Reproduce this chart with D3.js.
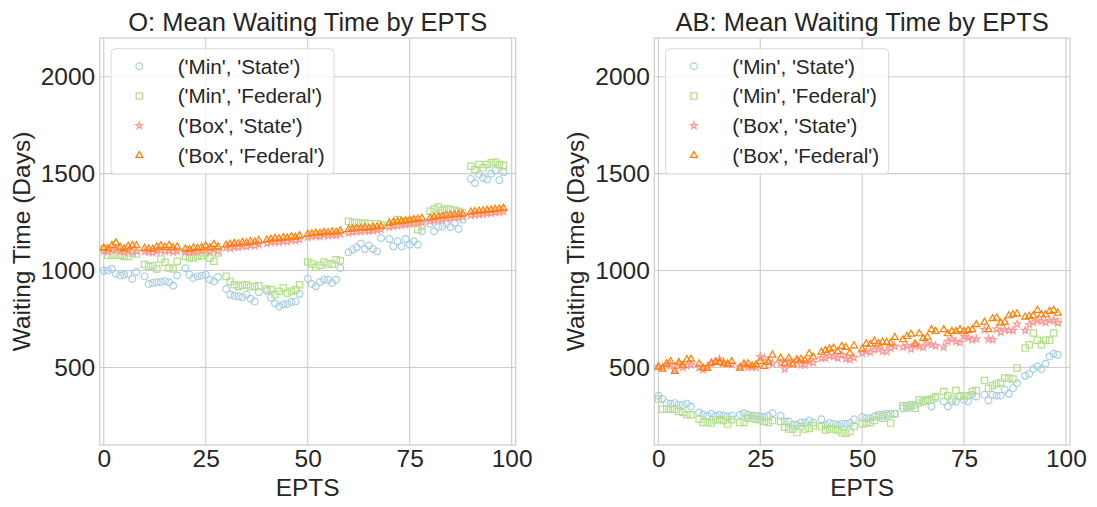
<!DOCTYPE html>
<html><head><meta charset="utf-8">
<script src="https://cdn.jsdelivr.net/npm/d3@7"></script>
<style>
body{margin:0;background:#fff}
text{font-family:"Liberation Sans",Arial,sans-serif;fill:#262626}
</style>
</head><body>
<svg id="c" width="1097" height="507"></svg>
<script>
// ---------------- DATA ----------------
const epts = [
 0,1,2,3,4,5,6,7,8,
 10,11,12,13,14,15,16,17,18,
 20,21,22,23,24,25,26,27,28,
 30,31,32,33,34,35,36,37,38,
 40,41,42,43,44,45,46,47,48,
 50,51,52,53,54,55,56,57,58,
 60,61,62,63,64,65,66,67,68,
 70,71,72,73,74,75,76,77,78,
 80,81,82,83,84,85,86,87,88,
 90,91,92,93,94,95,96,97,98];

const seriesNames = ["('Min', 'State')", "('Min', 'Federal')", "('Box', 'State')", "('Box', 'Federal')"];
const panelTitles = ["O: Mean Waiting Time by EPTS", "AB: Mean Waiting Time by EPTS"];
const xTicks = [0, 25, 50, 75, 100];
const yTicks = [500, 1000, 1500, 2000];
const xLabel = "EPTS";
const yLabel = "Waiting Time (Days)";

// Panel O
const minState_O = [
 1000,1001,1008,983,975,979,983,957,993,
 970,931,936,940,941,945,940,922,975,
 1012,979,962,970,974,979,953,944,967,
 905,876,870,867,863,876,855,841,888,
 895,860,830,815,825,828,838,841,880,
 958,931,919,941,953,953,936,953,1013,
 1094,1108,1120,1139,1111,1129,1111,1099,1168,
 1163,1125,1151,1125,1163,1134,1151,1134,1203,
 1242,1203,1225,1228,1242,1225,1246,1215,1263,
 1473,1452,1495,1478,1470,1500,1518,1466,1507];
const minFederal_O = [
 1113,1079,1079,1079,1079,1073,1073,1091,1086,
 1031,1022,1025,1008,1060,1043,1013,1008,1048,
 1074,1065,1065,1074,1077,1091,1065,1048,1091,
 970,944,927,918,924,927,918,918,921,
 905,901,876,893,910,884,893,901,927,
 1044,1034,1017,1027,1044,1034,1034,1056,1051,
 1254,1246,1249,1242,1246,1242,1211,1242,1237,
 1232,1237,1263,1254,1249,1254,1246,1211,1228,
 1306,1318,1328,1311,1318,1315,1311,1306,1300,
 1538,1521,1547,1530,1547,1556,1559,1547,1542];
const boxState_O = [
 1100,1098,1105,1110,1100,1095,1102,1098,1100,
 1098,1095,1092,1100,1105,1100,1102,1096,1100,
 1095,1092,1098,1096,1102,1105,1098,1108,1100,
 1118,1115,1122,1120,1126,1124,1130,1128,1135,
 1140,1145,1148,1146,1152,1150,1156,1155,1160,
 1172,1175,1178,1176,1182,1180,1184,1182,1188,
 1195,1198,1200,1202,1205,1203,1208,1210,1212,
 1225,1230,1232,1235,1238,1240,1244,1246,1248,
 1255,1258,1262,1264,1268,1270,1272,1275,1278,
 1285,1288,1290,1292,1295,1296,1300,1302,1305];
const boxFederal_O = [
 1117,1113,1130,1143,1120,1112,1125,1130,1128,
 1115,1112,1110,1122,1128,1120,1130,1118,1122,
 1112,1108,1118,1115,1120,1128,1118,1135,1122,
 1132,1136,1140,1138,1145,1142,1150,1148,1155,
 1158,1162,1166,1164,1170,1168,1175,1172,1180,
 1188,1190,1194,1192,1198,1196,1200,1198,1205,
 1212,1215,1217,1219,1222,1220,1224,1226,1228,
 1245,1250,1252,1255,1258,1260,1264,1266,1270,
 1272,1275,1278,1280,1284,1285,1288,1290,1292,
 1302,1305,1307,1309,1312,1313,1316,1318,1322];

// Panel AB
const minState_AB = [
 354,337,316,313,316,307,307,313,299,
 268,256,251,261,251,256,251,247,251,
 256,264,256,251,251,247,244,251,264,
 251,221,221,204,204,216,216,226,216,
 233,204,213,209,204,209,209,213,233,
 244,238,238,247,256,256,261,261,261,
 290,290,299,307,316,325,330,299,342,
 325,299,325,325,354,333,325,359,350,
 359,330,359,354,354,385,364,393,419,
 457,467,492,505,492,519,557,571,566];
const minFederal_AB = [
 337,285,285,285,285,273,268,256,256,
 233,216,216,213,230,230,226,208,230,
 216,216,238,238,233,230,221,216,226,
 221,192,182,182,164,195,182,187,199,
 195,178,182,182,178,164,161,170,195,
 209,213,216,226,247,238,251,213,261,
 302,299,307,290,333,325,333,337,350,
 376,354,337,381,350,354,354,376,381,
 433,393,406,416,423,445,445,440,497,
 600,617,678,640,617,640,640,678,738];
const boxState_AB = [
 505,502,509,514,488,519,500,510,515,
 500,488,505,520,531,543,526,519,515,
 505,509,500,502,500,556,548,531,520,
 522,492,526,519,536,514,514,530,525,
 548,548,560,557,548,566,545,540,550,
 574,583,578,591,595,583,583,600,609,
 605,612,595,617,609,605,626,617,612,
 605,634,646,634,629,660,652,643,647,
 695,647,643,698,681,695,691,691,724,
 691,721,733,743,738,733,743,743,729];
const boxFederal_AB = [
 502,492,519,531,480,526,509,540,543,
 519,497,495,523,526,526,519,517,531,
 497,519,519,509,514,531,505,526,564,
 548,519,548,514,540,543,536,571,554,
 579,588,595,600,583,609,604,574,612,
 595,622,619,635,622,631,629,626,655,
 643,660,672,622,674,650,657,695,686,
 695,674,686,686,695,686,691,695,721,
 734,695,752,755,729,734,767,772,777,
 760,764,767,795,772,772,790,795,781];

// ---------------- STYLE ----------------
const colors = ["#a6cee3", "#b2df8a", "#fb9a99", "#ff7f00"];
const symbols = [d3.symbolCircle, d3.symbolSquare, d3.symbolStar, d3.symbolTriangle];
const symSizes = [36, 40, 15, 21];
const gridColor = "#cccccc";
const fontTick = 24.5, fontTitle = 25.5, fontLegend = 20.7;

const panels = [
  {title: panelTitles[0], left: 99.7, right: 515.7, series: [minState_O, minFederal_O, boxState_O, boxFederal_O]},
  {title: panelTitles[1], left: 654.3, right: 1070, series: [minState_AB, minFederal_AB, boxState_AB, boxFederal_AB]}
];
const plotTop = 38, plotBottom = 445;

const svg = d3.select("#c");
svg.append("rect").attr("width",1097).attr("height",507).attr("fill","#fff");

panels.forEach(p => {
  const x = d3.scaleLinear().domain([-1, 101]).range([p.left, p.right]);
  const y = d3.scaleLinear().domain([100, 2200]).range([plotBottom, plotTop]);
  const g = svg.append("g");

  g.selectAll(".gx").data(xTicks).join("line")
    .attr("x1", d => x(d)).attr("x2", d => x(d)).attr("y1", plotTop).attr("y2", plotBottom)
    .attr("stroke", gridColor).attr("stroke-width", 1.1);
  g.selectAll(".gy").data(yTicks).join("line")
    .attr("y1", d => y(d)).attr("y2", d => y(d)).attr("x1", p.left).attr("x2", p.right)
    .attr("stroke", gridColor).attr("stroke-width", 1.1);
  g.append("rect").attr("x", p.left).attr("y", plotTop).attr("width", p.right - p.left).attr("height", plotBottom - plotTop)
    .attr("fill", "none").attr("stroke", gridColor).attr("stroke-width", 1.2);

  const ax = g.append("g").attr("transform", `translate(0,${plotBottom})`)
    .call(d3.axisBottom(x).tickValues(xTicks).tickSize(0).tickPadding(4.6).tickFormat(d3.format("d")));
  ax.select(".domain").remove();
  ax.selectAll("text").attr("font-size", fontTick).attr("font-family", "Liberation Sans, Arial, sans-serif").attr("fill", "#262626");
  const ay = g.append("g").attr("transform", `translate(${p.left},0)`)
    .call(d3.axisLeft(y).tickValues(yTicks).tickSize(0).tickPadding(4.5).tickFormat(d3.format("d")));
  ay.select(".domain").remove();
  ay.selectAll("text").attr("font-size", fontTick).attr("font-family", "Liberation Sans, Arial, sans-serif").attr("fill", "#262626");

  g.append("text").attr("x", (p.left + p.right) / 2).attr("y", 496).attr("text-anchor", "middle")
    .attr("font-size", fontTick).text(xLabel);
  g.append("text").attr("transform", `translate(${p.left - 70},${(plotTop + plotBottom) / 2}) rotate(-90)`)
    .attr("text-anchor", "middle").attr("font-size", fontTick).text(yLabel);
  g.append("text").attr("x", (p.left + p.right) / 2).attr("y", 31).attr("text-anchor", "middle")
    .attr("font-size", fontTitle).text(p.title);

  p.series.forEach((vals, si) => {
    const sym = d3.symbol().type(symbols[si]).size(symSizes[si]);
    g.append("g").selectAll("path").data(vals).join("path")
      .attr("d", sym)
      .attr("transform", (d, i) => `translate(${x(epts[i])},${y(d)})`)
      .attr("fill", "none").attr("stroke", colors[si]).attr("stroke-width", 1.2);
  });

  const lg = g.append("g");
  lg.append("rect").attr("x", p.left + 11.3).attr("y", 48.7).attr("width", 223).attr("height", 125.3)
    .attr("rx", 4).attr("fill", "#fff").attr("fill-opacity", 0.8).attr("stroke", "#d9d9d9").attr("stroke-width", 1);
  seriesNames.forEach((name, si) => {
    const cy = 66.3 + si * 29.7;
    lg.append("path").attr("d", d3.symbol().type(symbols[si]).size(symSizes[si]))
      .attr("transform", `translate(${p.left + 39.6},${cy})`)
      .attr("fill", "none").attr("stroke", colors[si]).attr("stroke-width", 1.2);
    lg.append("text").attr("x", p.left + 78).attr("y", cy).attr("dy", "0.35em")
      .attr("font-size", fontLegend).text(name);
  });
});
</script>
</body></html>
